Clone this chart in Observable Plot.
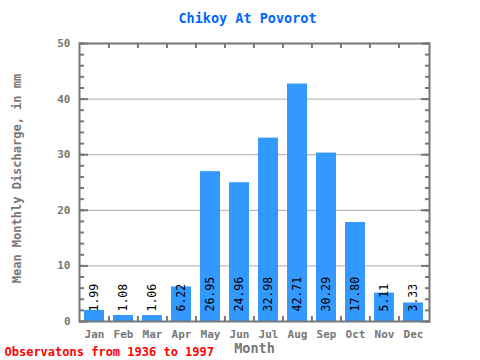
<!DOCTYPE html>
<html><head><meta charset="utf-8">
<script src="https://cdn.jsdelivr.net/npm/d3@7"></script>
<script src="https://cdn.jsdelivr.net/npm/@observablehq/plot@0.6"></script>
<style>body{margin:0;background:#fff}svg{display:block}</style>
</head><body><div id="chart"></div>
<script>
const months = ["Jan","Feb","Mar","Apr","May","Jun","Jul","Aug","Sep","Oct","Nov","Dec"];
const values = [1.99,1.08,1.06,6.22,26.95,24.96,32.98,42.71,30.29,17.80,5.11,3.33];
const labels = ["1.99","1.08","1.06","6.22","26.95","24.96","32.98","42.71","30.29","17.80","5.11","3.33"];
const yTicks = [0,10,20,30,40,50];
const yMinor = d3.range(0, 51, 2);
const title = "Chikoy At Povorot";
const caption = "Observatons from 1936 to 1997";
const data = months.map((m,i)=>({month:m, value:values[i], label:labels[i]}));

const W = 480, H = 360, ML = 79, MR = 51, MT = 43, MB = 39;
const step = (W - ML - MR) / months.length;
const gray = "#777";
const font = "DejaVu Sans Mono, monospace";

const chart = Plot.plot({
  width: W, height: H,
  marginLeft: ML, marginRight: MR, marginTop: MT, marginBottom: MB,
  style: {fontFamily: font, background: "#fff"},
  x: {domain: months, paddingInner: 0.31, paddingOuter: 0.155, label: null},
  y: {domain: [0, 50], label: null},
  marks: [
    Plot.gridY(yTicks.slice(1, -1), {stroke: "#aaa", strokeOpacity: 1, strokeWidth: 1}),
    Plot.barY(data, {x: "month", y: "value", fill: "#3399ff"}),
    Plot.text(data, {x: "month", y: () => 0, text: "label", rotate: -90, textAnchor: "start", lineAnchor: "middle", dy: -10, fill: "#000", fontSize: 11.5, fontFamily: font}),
    Plot.axisY({ticks: yMinor, tickSize: -5, text: null, stroke: gray, strokeWidth: 2, strokeOpacity: 1, anchor: "left", label: null}),
    Plot.axisY({ticks: yMinor, tickSize: -5, text: null, stroke: gray, strokeWidth: 2, strokeOpacity: 1, anchor: "right", label: null}),
    Plot.axisY({ticks: yTicks, tickSize: -9, text: null, stroke: gray, strokeWidth: 2, strokeOpacity: 1, anchor: "left", label: null}),
    Plot.axisY({ticks: yTicks, tickSize: -9, text: null, stroke: gray, strokeWidth: 2, strokeOpacity: 1, anchor: "right", label: null}),
    Plot.axisY({ticks: yTicks, tickSize: 0, tickPadding: 9, anchor: "left", fill: gray, fontSize: 11, fontWeight: "bold", label: null}),
    Plot.ruleX(months.slice(1), {x: d => d, dx: -step/2, y1: 50, y2: 49.1, stroke: gray, strokeWidth: 2}),
    Plot.ruleX(months.slice(1), {x: d => d, dx: -step/2, y1: 0, y2: 0.9, stroke: gray, strokeWidth: 2}),
    Plot.axisX({tickSize: 0, tickPadding: 9, fill: gray, fontSize: 11, fontWeight: "bold", label: null}),
    Plot.frame({stroke: gray, strokeWidth: 2}),
    Plot.text(["Month"], {frameAnchor: "bottom", lineAnchor: "middle", dy: 27, fill: gray, fontSize: 13.5, fontWeight: "bold", fontFamily: font}),
    Plot.text(["Mean Monthly Discharge, in mm"], {frameAnchor: "left", textAnchor: "middle", lineAnchor: "middle", dx: -62, dy: -4, rotate: -90, fill: gray, fontSize: 12, fontWeight: "bold", fontFamily: font}),
    Plot.text([title], {frameAnchor: "top", lineAnchor: "middle", dx: -7, dy: -25, fill: "#0066ff", fontSize: 13.5, fontWeight: "bold", fontFamily: font}),
    Plot.text([caption], {frameAnchor: "bottom-left", lineAnchor: "middle", dx: -75, dy: 31, textAnchor: "start", fill: "#ff0000", fontSize: 12, fontWeight: "bold", fontFamily: font})
  ]
});
document.getElementById("chart").appendChild(chart);
</script>
</body></html>
